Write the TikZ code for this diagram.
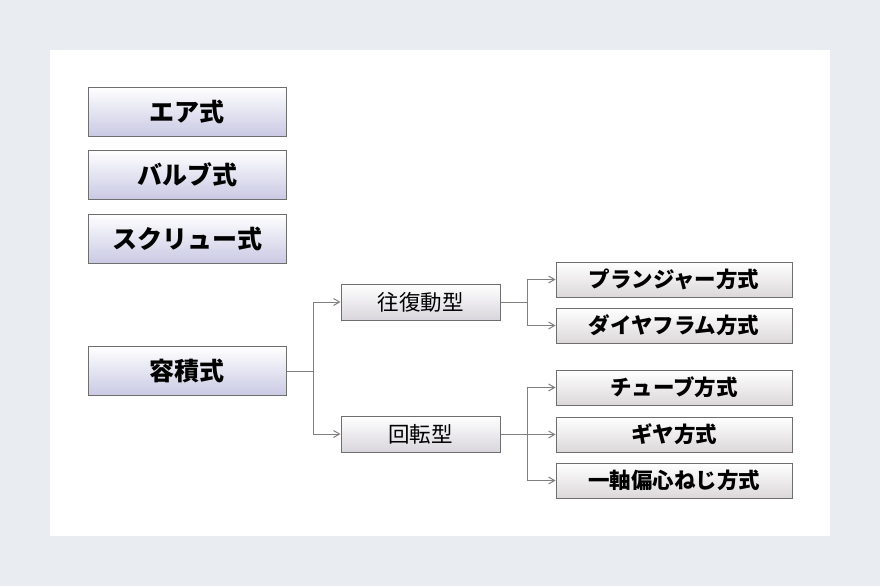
\documentclass[tikz,border=0pt]{standalone}
\usepackage{fontspec}
\setmainfont{Noto Sans CJK JP}
\usetikzlibrary{positioning,arrows.meta}
\definecolor{pagebg}{HTML}{E9EDF2}
\definecolor{boxline}{HTML}{6E6E6E}
\definecolor{lavend}{HTML}{C9C9E4}
\definecolor{rosy}{HTML}{DCD8DA}
\tikzset{
  main/.style={draw=boxline, line width=1pt, top color=white, bottom color=lavend,
    minimum width=198pt, minimum height=49pt, font=\bfseries\fontsize{25}{25}\selectfont},
  kind/.style={draw=boxline, line width=1pt, top color=white, bottom color=rosy!80!lavend,
    minimum width=159pt, minimum height=36pt, font=\fontsize{21.5}{21.5}\selectfont},
  leaf/.style={draw=boxline, line width=1pt, top color=white, bottom color=rosy,
    minimum width=236pt, minimum height=35pt, font=\bfseries\fontsize{21.5}{21.5}\selectfont},
  link/.style={draw=gray, line width=1pt},
  tip/.style={link, -{Straight Barb[length=6pt,width=7pt]}}
}
\begin{document}
\begin{tikzpicture}[x=1pt, y=-1pt]
  \fill[pagebg] (0,0) rectangle (880,586);
  \fill[white] (50,50) rectangle (830,536);
  \node[main] (air) at (187,111.5) {エア式};
  \node[main] (valve) at (187,174.5) {バルブ式};
  \node[main] (screw) at (187,238.5) {スクリュー式};
  \node[main] (disp) at (187,371) {容積式};
  \node[kind] (recip) at (420.5,302) {往復動型};
  \node[kind] (rot) at (420.5,434) {回転型};
  \node[leaf] (plunger) at (674,279.5) {プランジャー方式};
  \node[leaf] (diaph) at (674,325.5) {ダイヤフラム方式};
  \node[leaf] (tube) at (674,387.5) {チューブ方式};
  \node[leaf] (gear) at (674,434.5) {ギヤ方式};
  \node[leaf] (screwpump) at (674,480.5) {一軸偏心ねじ方式};
  \coordinate (j0) at (313,371);
  \coordinate (j1) at (527,302);
  \coordinate (j2) at (527,434);
  \draw[link] (disp.east) -- (j0);
  \draw[tip] (j0) |- (recip.west);
  \draw[tip] (j0) |- (rot.west);
  \draw[link] (recip.east) -- (j1);
  \draw[tip] (j1) |- (plunger.west);
  \draw[tip] (j1) |- (diaph.west);
  \draw[link] (rot.east) -- (j2);
  \draw[tip] (j2) |- (tube.west);
  \draw[tip] (j2) |- (gear.west);
  \draw[tip] (j2) |- (screwpump.west);
\end{tikzpicture}
\end{document}
